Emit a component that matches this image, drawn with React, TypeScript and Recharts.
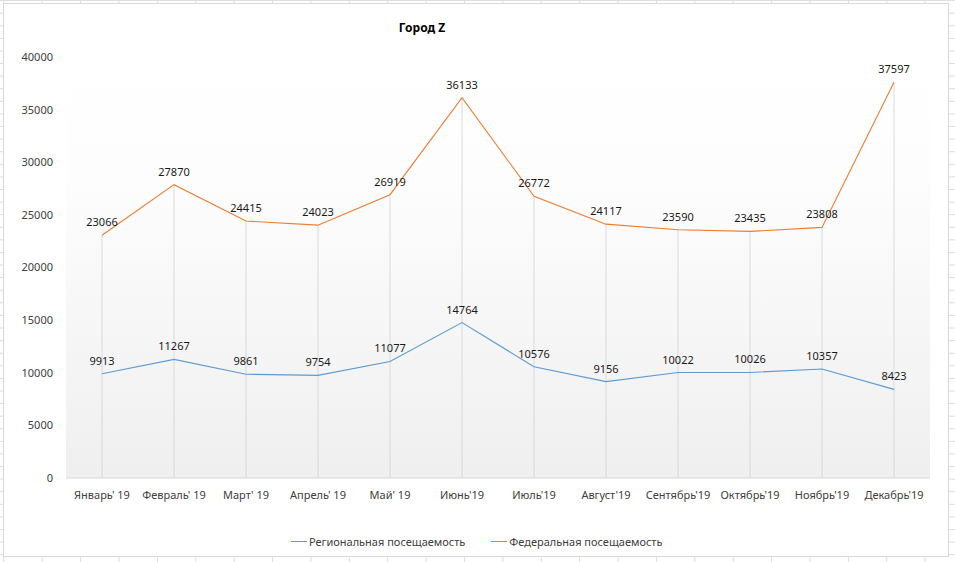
import React from 'react';
import {
  LineChart,
  Line,
  XAxis,
  YAxis,
  CartesianGrid,
  ReferenceLine,
  LabelList,
} from 'recharts';

// Данные графика
const months = [
  "Январь' 19",
  "Февраль' 19",
  "Март' 19",
  "Апрель' 19",
  "Май' 19",
  "Июнь'19",
  "Июль'19",
  "Август'19",
  "Сентябрь'19",
  "Октябрь'19",
  "Ноябрь'19",
  "Декабрь'19",
];
const regional = [9913, 11267, 9861, 9754, 11077, 14764, 10576, 9156, 10022, 10026, 10357, 8423];
const federal = [23066, 27870, 24415, 24023, 26919, 36133, 26772, 24117, 23590, 23435, 23808, 37597];
const yTicks = [0, 5000, 10000, 15000, 20000, 25000, 30000, 35000, 40000];

const seriesNames = {
  regional: 'Региональная посещаемость',
  federal: 'Федеральная посещаемость',
};

const BLUE = '#5b9bd5';
const ORANGE = '#ed7d31';
const FONT = '"Noto Sans", sans-serif';

const data = months.map((month, i) => ({
  month,
  regional: regional[i],
  federal: federal[i],
}));

const legendItems = [
  { name: seriesNames.regional, color: BLUE },
  { name: seriesNames.federal, color: ORANGE },
];

// легенда снизу, как в Excel
const ChartLegend = () => (
  <div
    style={{
      position: 'absolute',
      left: 0,
      top: 530,
      width: 944,
      display: 'flex',
      fontFamily: FONT,
      fontSize: 11,
      color: '#404040',
      paddingLeft: 287,
      boxSizing: 'border-box',
    }}
  >
    {legendItems.map((item, i) => (
      <div key={item.name} style={{ display: 'flex', alignItems: 'center', marginLeft: i === 0 ? 0 : 26 }}>
        <span
          style={{
            display: 'inline-block',
            width: 16,
            height: 0,
            borderTop: `1px solid ${item.color}`,
            marginRight: 2,
          }}
        />
        <span>{item.name}</span>
      </div>
    ))}
  </div>
);

export default function App() {
  return (
    <div
      style={{
        position: 'absolute',
        left: 0,
        top: 0,
        width: 955,
        height: 562,
        background: '#fff',
        backgroundImage:
          'linear-gradient(to right, #dcdcdc 1px, transparent 1px), linear-gradient(to bottom, #dcdcdc 1px, transparent 1px)',
        backgroundSize: '38.4px 12.6px',
        backgroundPosition: '3.3px 0.1px',
        overflow: 'hidden',
      }}
    >
      <div
        style={{
          position: 'absolute',
          left: 3,
          top: 3,
          width: 946,
          height: 554,
          boxSizing: 'border-box',
          border: '1px solid #d9d9d9',
          background: '#fff',
        }}
      >
        <div
          style={{
            position: 'absolute',
            left: 368,
            width: 100,
            top: 15,
            textAlign: 'center',
            fontFamily: FONT,
            fontWeight: 'bold',
            fontSize: 12,
            color: '#000',
          }}
        >
          Город Z
        </div>
        <LineChart width={944} height={552} data={data} margin={{ top: 53, right: 18, bottom: 48, left: 0 }}>
          <defs>
            <linearGradient id="plotGrad" x1="0" y1="0" x2="0" y2="1">
              <stop offset="0" stopColor="#ffffff" />
              <stop offset="0.3" stopColor="#fdfdfd" />
              <stop offset="1" stopColor="#efefef" />
            </linearGradient>
          </defs>
          <CartesianGrid horizontal={false} vertical={false} fill="url(#plotGrad)" stroke="none" />
          <XAxis
            dataKey="month"
            interval={0}
            padding={{ left: 36, right: 36 }}
            height={30}
            tickLine={false}
            tickSize={0}
            tickMargin={13}
            axisLine={{ stroke: '#d9d9d9' }}
            tick={{ fill: '#404040', fontSize: 11, fontFamily: FONT }}
          />
          <YAxis
            domain={[0, 40000]}
            ticks={yTicks}
            width={62}
            axisLine={false}
            tickLine={false}
            tickSize={0}
            tickMargin={13}
            tick={{ fill: '#404040', fontSize: 11, fontFamily: FONT }}
          />
          {data.map((d) => (
            <ReferenceLine
              key={d.month}
              segment={[
                { x: d.month, y: 0 },
                { x: d.month, y: Math.max(d.federal, d.regional) },
              ]}
              stroke="#d9d9d9"
              strokeWidth={1}
            />
          ))}
          <Line
            dataKey="regional"
            name={seriesNames.regional}
            stroke={BLUE}
            strokeWidth={1.1}
            dot={false}
            activeDot={false}
            type="linear"
            isAnimationActive={false}
          >
            <LabelList dataKey="regional" position="top" offset={9} fill="#1a1a1a" fontSize={11} fontFamily={FONT} />
          </Line>
          <Line
            dataKey="federal"
            name={seriesNames.federal}
            stroke={ORANGE}
            strokeWidth={1.1}
            dot={false}
            activeDot={false}
            type="linear"
            isAnimationActive={false}
          >
            <LabelList dataKey="federal" position="top" offset={9} fill="#1a1a1a" fontSize={11} fontFamily={FONT} />
          </Line>
        </LineChart>
        <ChartLegend />
      </div>
    </div>
  );
}
